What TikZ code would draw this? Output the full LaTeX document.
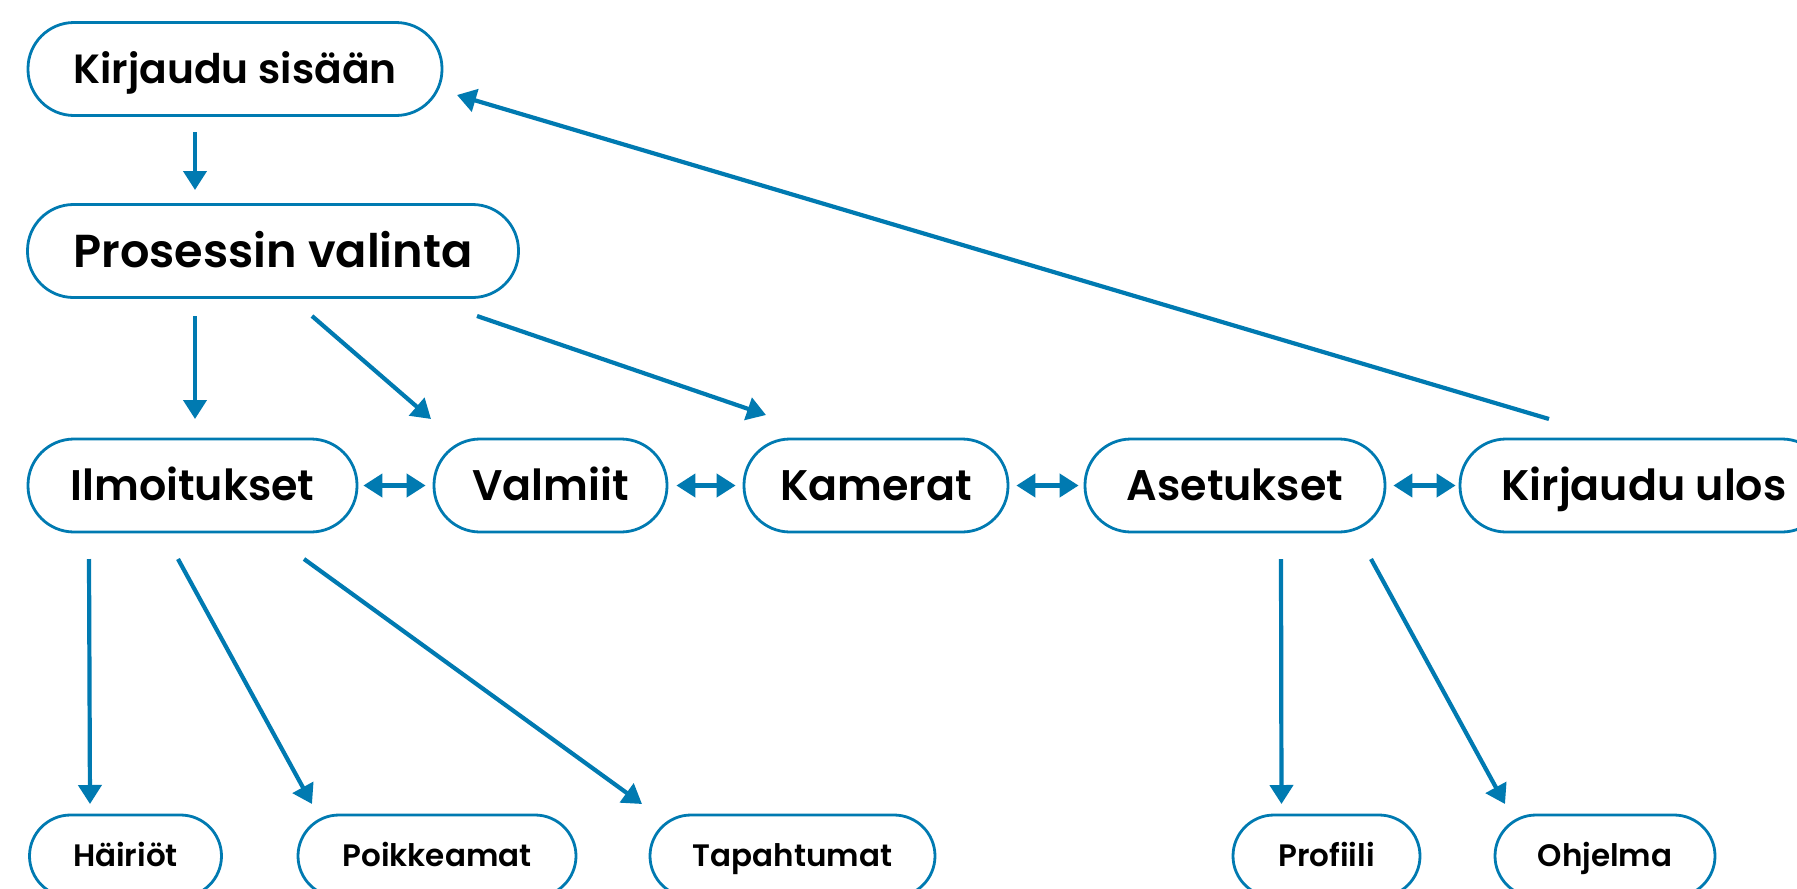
\documentclass[tikz,border=0pt]{standalone}
\usepackage{fontspec}
\setmainfont{Poppins}[UprightFont=* SemiBold]
\usetikzlibrary{arrows.meta,calc}
\definecolor{lblue}{RGB}{0,122,177}
\begin{document}
\begin{tikzpicture}[x=1pt,y=-1pt,
  pill/.style={draw=lblue,line width=2.8pt,rounded corners=46pt,inner sep=0pt,fill=white,text depth=0pt},
  big/.style={pill,minimum height=93pt},
  row/.style={big,font=\fontsize{42.8}{42.8}\selectfont,text height=30pt},
  small/.style={pill,minimum height=82pt,rounded corners=41pt,font=\fontsize{31}{31}\selectfont,text height=21.7pt},
  conn/.style={draw=lblue,line width=4.2pt,-{Triangle[length=19pt,width=23pt]}},
  dconn/.style={draw=lblue,line width=4.2pt,{Triangle[length=19pt,width=23pt]}-{Triangle[length=19pt,width=23pt]}}
]
\clip (0,0) rectangle (1797,889);
\fill[white] (0,0) rectangle (1797,889);
\node[big,minimum width=414pt,font=\fontsize{40.8}{40.8}\selectfont,text height=28.6pt] (ks) at (235,69) {Kirjaudu sisään};
\node[big,minimum width=491pt,font=\fontsize{46.2}{46.2}\selectfont,text height=32.3pt] (pv) at (273,251) {Prosessin valinta};
\node[row,minimum width=329pt] (ilm) at (192.5,485.5) {Ilmoitukset};
\node[row,minimum width=233pt] (val) at (550.5,485.5) {Valmiit};
\node[row,minimum width=264pt] (kam) at (876,485.5) {Kamerat};
\node[row,minimum width=300pt] (ase) at (1235,485.5) {Asetukset};
\node[row,minimum width=368pt] (ku) at (1644,485.5) {Kirjaudu ulos};
\node[small,minimum width=192pt] (hai) at (125.5,856) {Häiriöt};
\node[small,minimum width=278pt] (poi) at (437,856) {Poikkeamat};
\node[small,minimum width=285pt] (tap) at (792.5,856) {Tapahtumat};
\node[small,minimum width=187pt] (pro) at (1326.5,856) {Profiili};
\node[small,minimum width=220pt] (ohj) at (1605,856) {Ohjelma};

\draw[conn] ($(ks)+(-40,63)$) -- ($(pv)+(-78,-61)$);
\draw[conn] ($(pv)+(-78,65)$) -- ($(ilm)+(2.5,-66.5)$);
\draw[conn] ($(pv)+(39,65)$) -- ($(val)+(-119.5,-66.5)$);
\draw[conn] ($(pv)+(204,65)$) -- ($(kam)+(-110,-70.5)$);
\draw[conn] ($(ku)+(-95,-66.5)$) -- ($(ks)+(222,26)$);
\draw[dconn] ([xshift=5pt]ilm.east) -- ([xshift=-7pt]val.west);
\draw[dconn] ([xshift=8pt]val.east) -- ([xshift=-7pt]kam.west);
\draw[dconn] ([xshift=7pt]kam.east) -- ([xshift=-5pt]ase.west);
\draw[dconn] ([xshift=7pt]ase.east) -- ([xshift=-3pt]ku.west);
\draw[conn] ($(ilm)+(-103.5,73.5)$) -- ($(hai)+(-35.5,-52)$);
\draw[conn] ($(ilm)+(-14.5,73.5)$) -- ($(poi)+(-125,-52)$);
\draw[conn] ($(ilm)+(111.5,73.5)$) -- ($(tap)+(-150.5,-52)$);
\draw[conn] ($(ase)+(46,73.5)$) -- ($(pro)+(-45,-52)$);
\draw[conn] ($(ase)+(136,73.5)$) -- ($(ohj)+(-100,-52)$);
\end{tikzpicture}
\end{document}
